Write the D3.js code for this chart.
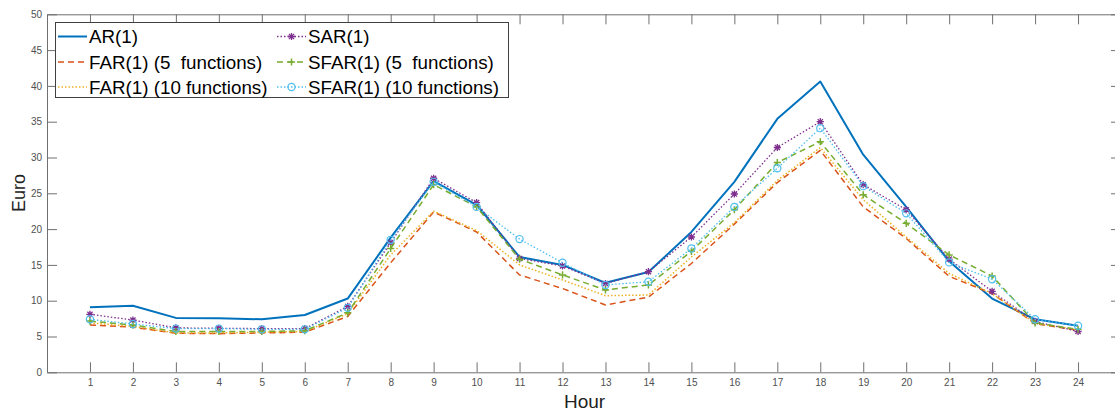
<!DOCTYPE html>
<html>
<head>
<meta charset="utf-8">
<script src="https://cdn.jsdelivr.net/npm/d3@7"></script>
<style>
html,body{margin:0;padding:0;background:#fff;}
svg{display:block;}
text{font-family:"Liberation Sans", Arial, sans-serif;}
</style>
</head>
<body>
<svg id="chart" width="1115" height="410"></svg>
<script>
const hours = [1,2,3,4,5,6,7,8,9,10,11,12,13,14,15,16,17,18,19,20,21,22,23,24];
const yTicks = [0,5,10,15,20,25,30,35,40,45,50];

const seriesNames = ["AR(1)", "FAR(1) (5  functions)", "FAR(1) (10 functions)", "SAR(1)", "SFAR(1) (5  functions)", "SFAR(1) (10 functions)"];
const AR     = [9.1, 9.3, 7.6, 7.55, 7.4, 8.0, 10.3, 18.8, 26.7, 23.4, 16.1, 15.0, 12.5, 14.0, 19.6, 26.6, 35.4, 40.6, 30.4, 23.1, 15.5, 10.3, 7.4, 6.5];
const FAR5   = [6.6, 6.3, 5.45, 5.4, 5.5, 5.6, 7.8, 15.3, 22.4, 19.6, 13.6, 11.7, 9.4, 10.5, 15.2, 20.7, 26.5, 31.0, 23.1, 18.7, 13.4, 11.0, 6.8, 5.85];
const FAR10  = [6.9, 6.4, 5.5, 5.5, 5.6, 5.7, 8.2, 16.4, 22.5, 19.8, 15.0, 12.9, 10.7, 10.8, 16.1, 20.9, 26.8, 31.4, 24.1, 18.9, 13.8, 11.0, 6.85, 5.95];
const SAR    = [8.1, 7.3, 6.2, 6.15, 6.1, 6.1, 9.2, 18.1, 27.1, 23.7, 15.9, 14.85, 12.4, 14.05, 18.9, 24.9, 31.4, 35.0, 26.2, 22.7, 15.8, 11.3, 7.1, 5.7];
const SFAR5  = [7.15, 6.6, 5.7, 5.7, 5.7, 5.8, 8.3, 17.3, 26.2, 23.1, 15.8, 13.6, 11.5, 12.2, 16.9, 22.7, 29.3, 32.2, 24.8, 20.8, 16.4, 13.45, 6.9, 6.0];
const SFAR10 = [7.4, 6.75, 6.1, 6.1, 6.0, 6.0, 9.0, 18.5, 26.6, 23.1, 18.6, 15.3, 12.2, 12.65, 17.3, 23.1, 28.5, 34.1, 26.0, 22.2, 15.35, 13.0, 7.4, 6.5];

const seriesValues = [AR, FAR5, FAR10, SAR, SFAR5, SFAR10];
const styles = [
  {color:"#0072BD", width:2, dash:null, marker:null},
  {color:"#D95319", width:1.5, dash:"6,4", marker:null},
  {color:"#EDB120", width:1.5, dash:"1.5,2", marker:null},
  {color:"#7E2F8E", width:1.3, dash:"1.5,2", marker:"star"},
  {color:"#77AC30", width:1.5, dash:"6,4", marker:"plus"},
  {color:"#4DBEEE", width:1.3, dash:"1.5,2", marker:"circle"}
];

const svg = d3.select("#chart");
const L = 47, R = 1121, T = 14.3, B = 372.3;
const x = d3.scaleLinear().domain([0,25]).range([L,R]);
const y = d3.scaleLinear().domain([0,50]).range([B,T]);
const axisColor = "#707070";
const labelColor = "#505050";

// axes
const gx = svg.append("g").attr("transform",`translate(0,${B})`)
  .call(d3.axisBottom(x).tickValues(hours).tickSizeInner(-10).tickSizeOuter(0).tickPadding(7));
const gxTop = svg.append("g").attr("transform",`translate(0,${T})`)
  .call(d3.axisTop(x).tickValues(hours).tickSizeInner(-10).tickSizeOuter(0).tickFormat(""));
const gy = svg.append("g").attr("transform",`translate(${L},0)`)
  .call(d3.axisLeft(y).tickValues(yTicks).tickSizeInner(-10).tickSizeOuter(0).tickPadding(5));
const gyR = svg.append("g").attr("transform",`translate(${R},0)`)
  .call(d3.axisRight(y).tickValues(yTicks).tickSizeInner(-10).tickSizeOuter(0).tickFormat(""));
[gx,gxTop,gy,gyR].forEach(g=>{
  g.selectAll("path.domain").attr("stroke",axisColor).attr("stroke-width",1);
  g.selectAll("line").attr("stroke",axisColor).attr("stroke-width",1);
  g.selectAll("text").attr("fill",labelColor).style("font-size","10px");
});

// axis labels
svg.append("text").attr("x",584.5).attr("y",407.5).attr("text-anchor","middle")
  .style("font-size","19px").attr("fill","#222").text("Hour");
svg.append("text").attr("transform","translate(25,193) rotate(-90)").attr("text-anchor","middle")
  .style("font-size","18px").attr("fill","#222").text("Euro");

function drawMarker(g, type, cx, cy, color){
  const s = 3.6;
  if(type==="circle"){
    g.append("circle").attr("cx",cx).attr("cy",cy).attr("r",s).attr("fill","none")
      .attr("stroke",color).attr("stroke-width",1.2);
  } else if(type==="plus"){
    g.append("path").attr("d",`M${cx-s},${cy}H${cx+s}M${cx},${cy-s}V${cy+s}`)
      .attr("stroke",color).attr("stroke-width",1.5).attr("fill","none");
  } else if(type==="star"){
    const d = s*0.72;
    g.append("path").attr("d",`M${cx-s},${cy}H${cx+s}M${cx},${cy-s}V${cy+s}M${cx-d},${cy-d}L${cx+d},${cy+d}M${cx-d},${cy+d}L${cx+d},${cy-d}`)
      .attr("stroke",color).attr("stroke-width",1.3).attr("fill","none");
  }
}

// lines
const line = d3.line().x((d,i)=>x(hours[i])).y(d=>y(d));
const plot = svg.append("g");
seriesValues.forEach((vals,k)=>{
  const st = styles[k];
  plot.append("path").datum(vals).attr("d",line).attr("fill","none")
    .attr("stroke",st.color).attr("stroke-width",st.width)
    .attr("stroke-dasharray",st.dash).attr("stroke-linejoin","round");
  if(st.marker){
    const mg = plot.append("g");
    vals.forEach((v,i)=>drawMarker(mg, st.marker, x(hours[i]), y(v), st.color));
  }
});

// legend
const lg = svg.append("g");
lg.append("rect").attr("x",55.5).attr("y",22.5).attr("width",453).attr("height",75)
  .attr("fill","#fff").attr("stroke","#404040").attr("stroke-width",1);
const rowsY = [36.5, 62, 87];
const colX = [{s0:58,s1:87,t:89},{s0:277,s1:306,t:308}];
seriesNames.forEach((name,k)=>{
  const col = colX[Math.floor(k/3)], ry = rowsY[k%3], st = styles[k];
  lg.append("line").attr("x1",col.s0).attr("x2",col.s1).attr("y1",ry).attr("y2",ry)
    .attr("stroke",st.color).attr("stroke-width",st.width).attr("stroke-dasharray",st.dash);
  if(st.marker) drawMarker(lg, st.marker, (col.s0+col.s1)/2, ry, st.color);
  lg.append("text").attr("x",col.t).attr("y",ry).attr("dy","0.35em")
    .style("font-size","18.8px").style("white-space","pre").attr("fill","#000").text(name);
});
</script>
</body>
</html>
